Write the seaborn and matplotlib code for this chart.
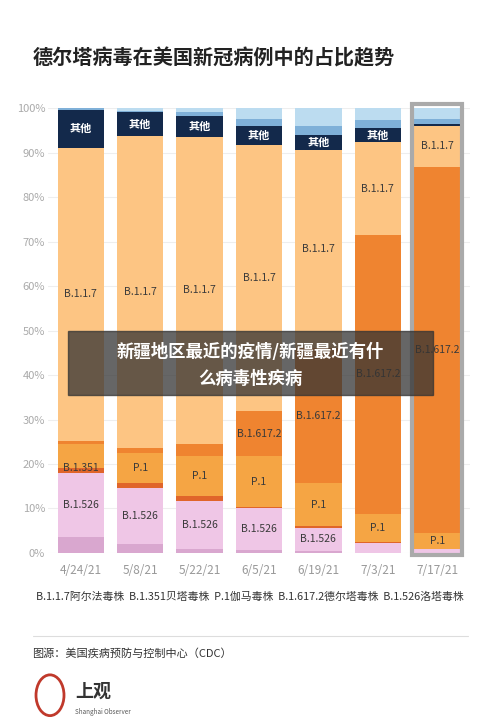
import matplotlib
matplotlib.use("Agg")
import matplotlib.pyplot as plt
import seaborn as sns
import numpy as np
import pandas as pd
from matplotlib.patches import Rectangle

sns.set_theme(style="white")
plt.rcParams['font.family'] = ['Noto Sans CJK SC', 'DejaVu Sans']

dates = ["4/24/21", "5/8/21", "5/22/21", "6/5/21", "6/19/21", "7/3/21", "7/17/21"]
# stacked from bottom to top
other_pink = [3.5, 2.0, 1.0, 0.7, 0.4, 0.0, 0.0]
b1526 = [14.5, 12.7, 10.7, 9.3, 5.3, 2.3, 0.8]
b1351 = [1.0, 1.0, 1.0, 0.4, 0.3, 0.2, 0.2]
p1 = [5.5, 6.8, 9.0, 11.3, 9.7, 6.3, 3.5]
b16172 = [0.6, 1.2, 2.8, 10.3, 30.3, 62.7, 82.3]
b117 = [66.0, 70.1, 69.0, 59.8, 44.5, 20.8, 9.2]
others = [8.5, 5.2, 4.8, 4.2, 3.5, 3.2, 0.5]
blue_mid = [0.3, 0.4, 0.7, 1.5, 2.0, 1.7, 1.0]
blue_light = [0.2, 0.6, 1.0, 2.5, 4.0, 2.8, 2.5]

layers = [
    ("other_pink", other_pink, "#d9a7cf"),
    ("B.1.526", b1526, "#efc6e6"),
    ("B.1.351", b1351, "#e0652a"),
    ("P.1", p1, "#f5a544"),
    ("B.1.617.2", b16172, "#ef8430"),
    ("B.1.1.7", b117, "#fdc583"),
    ("其他", others, "#13294b"),
    ("blue_mid", blue_mid, "#7fb0d8"),
    ("blue_light", blue_light, "#bcdcf0"),
]

fig = plt.figure(figsize=(5, 7.28), dpi=100)
fig.patch.set_facecolor("white")
ax = fig.add_axes([0.096, 0.2404, 0.844, 0.6112])

cum = np.zeros(len(dates))
cums = []
for name, vals, col in layers:
    bottom = cum.copy()
    cum = cum + np.array(vals)
    cums.append((name, bottom, cum.copy(), col))

for name, bottom, top, col in reversed(cums):
    df = pd.DataFrame({"date": dates, "v": top})
    sns.barplot(data=df, x="date", y="v", color=col, width=0.78, ax=ax,
                saturation=1, linewidth=0, edgecolor="none")

labels = {"B.1.526": [0, 1, 2, 3, 4], "P.1": [1, 2, 3, 4, 5, 6],
          "B.1.617.2": [3, 4, 5, 6], "B.1.1.7": [0, 1, 2, 3, 4, 5, 6],
          "其他": [0, 1, 2, 3, 4, 5], "B.1.351": [0]}
for name, bottom, top, col in cums:
    if name in labels:
        for i in labels[name]:
            mid = (bottom[i] + top[i]) / 2
            if name == "B.1.351":
                mid = top[i]
            c = "white" if name == "其他" else "#3a3a3a"
            ax.text(i, mid, name, ha="center", va="center", fontsize=7.5 if name != "其他" else 8,
                    color=c, fontweight="bold" if name == "其他" else "normal")

ax.add_patch(Rectangle((5.58, -0.5), 0.84, 101.5, fill=False, edgecolor="#aaaaaa", lw=3, clip_on=False, zorder=5))

ax.set_ylim(0, 100)
ax.set_xlim(-0.55, 6.55)
ax.set_yticks(range(0, 101, 10))
ax.set_yticklabels([f"{v}%" for v in range(0, 101, 10)], color="#aaaaaa", fontsize=8)
ax.tick_params(axis="x", colors="#999999", labelsize=8.5, length=0, pad=8)
ax.tick_params(axis="y", length=0, pad=2)
ax.set_xlabel("")
ax.set_ylabel("")
ax.yaxis.grid(True, color="#eeeeee", lw=0.8)
ax.set_axisbelow(True)
for s in ax.spines.values():
    s.set_visible(False)

fig.text(0.065, 0.92, "德尔塔病毒在美国新冠病例中的占比趋势", fontsize=14.5, fontweight="bold", color="#222222", va="center")
fig.text(0.5, 0.181, "B.1.1.7阿尔法毒株  B.1.351贝塔毒株  P.1伽马毒株  B.1.617.2德尔塔毒株  B.1.526洛塔毒株",
         ha="center", va="center", fontsize=7.8, color="#333333")
fig.add_artist(plt.Line2D([0.065, 0.935], [0.127, 0.127], color="#dddddd", lw=0.8))
fig.text(0.065, 0.102, "图源：美国疾病预防与控制中心（CDC）", fontsize=8, color="#333333", va="center")
fig.text(0.15, 0.05, "上观", fontsize=13, fontweight="bold", color="#333333", va="center")
fig.text(0.15, 0.022, "Shanghai Observer", fontsize=4.5, color="#555555", va="center")
fig.add_artist(plt.Circle((0.1, 0.045), 0.028, transform=fig.transFigure, color="#c0392b", fill=False, lw=2))

fig.add_artist(Rectangle((0.135, 0.458), 0.73, 0.087, transform=fig.transFigure, color="#333333", alpha=0.75, zorder=10))
fig.text(0.5, 0.517, "新疆地区最近的疫情/新疆最近有什", ha="center", va="center", fontsize=12.5, fontweight="bold", color="white", zorder=11)
fig.text(0.5, 0.48, "么病毒性疾病", ha="center", va="center", fontsize=12.5, fontweight="bold", color="white", zorder=11)

fig.savefig("out.png", dpi=100)
